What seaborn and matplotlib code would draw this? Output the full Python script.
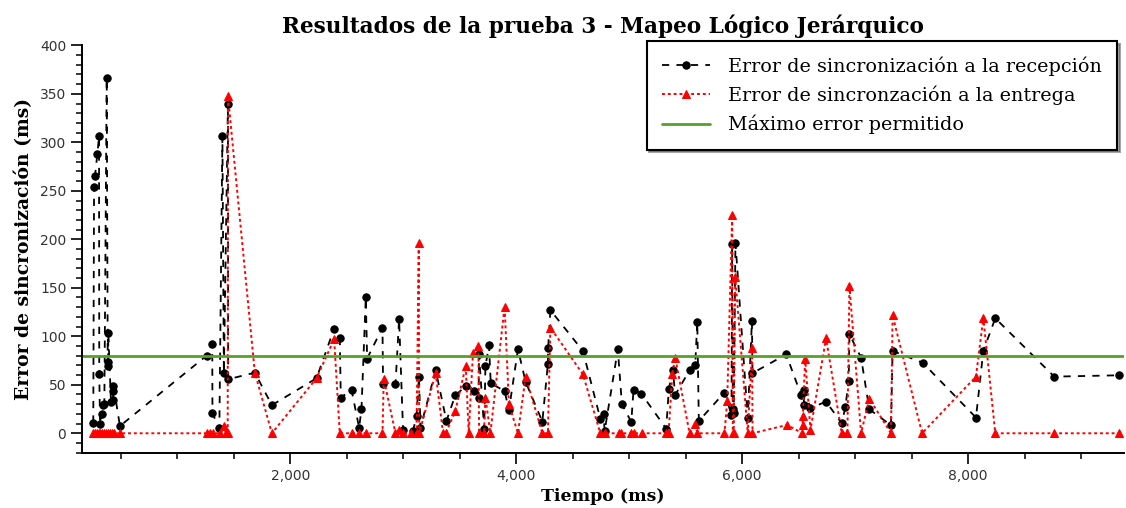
import matplotlib
matplotlib.use("Agg")
import matplotlib.pyplot as plt
import seaborn as sns
import pandas as pd
from matplotlib.ticker import MultipleLocator, FuncFormatter

# ---------------- data ----------------
t_recepcion = [257, 264, 272, 293, 308, 310, 317, 332, 346, 355, 376, 385, 388, 390, 414, 432, 434, 436, 493,
               1260, 1310, 1312, 1373, 1400, 1413, 1449, 1451, 1687, 1838, 2233, 2389, 2439, 2448, 2543, 2610,
               2631, 2669, 2681, 2817, 2822, 2932, 2964, 2999, 3087, 3118, 3140, 3153, 3288, 3383, 3462, 3560,
               3624, 3668, 3671, 3717, 3728, 3760, 3775, 3898, 3936, 4016, 4084, 4232, 4281, 4283, 4303, 4591,
               4745, 4774, 4783, 4900, 4936, 5019, 5039, 5107, 5328, 5352, 5387, 5408, 5535, 5585, 5603, 5617,
               5844, 5906, 5912, 5918, 5926, 5941, 6050, 6087, 6092, 6390, 6522, 6545, 6552, 6605, 6743, 6882,
               6914, 6943, 6950, 7053, 7126, 7318, 7332, 7598, 8070, 8135, 8241, 8763, 9337]
err_recepcion = [11, 254, 265, 288, 306, 61.5, 10, 19.6, 29, 30, 366, 74, 69, 103, 32, 34, 44, 49, 7.5,
                 80, 92, 20.6, 5, 306, 62.5, 340, 55.7, 62.5, 29, 56.7, 108, 98.6, 36.8, 44.7, 5.8,
                 24.7, 140, 77, 109, 50.5, 50.5, 117.5, 3.4, 2.4, 17.9, 58.4, 5.8, 65, 12.7, 39.5, 48.8,
                 43.6, 36.8, 81.4, 4.5, 69, 90.7, 51.5, 43.6, 23.7, 86.6, 53, 12, 71.8, 87.6, 127, 84.9,
                 15, 19.6, 2, 86.6, 30, 11.7, 44.7, 41, 4.8, 46, 65, 39.5, 65, 70, 115, 12.7,
                 42, 19, 195, 24.7, 21, 196.6, 15.5, 115.8, 62, 81.4, 39.5, 29, 44.7, 26, 32.6, 10.3,
                 27, 54, 102, 78, 24.7, 8.2, 84.9, 72.8, 16.2, 84.9, 118.6, 58.4, 59.8]

t_entrega = [255, 272, 290, 308, 317, 334, 352, 370, 387, 405, 423, 440, 493,
             1263, 1289, 1316, 1378, 1413, 1431, 1447, 1449, 1687, 1838, 2233, 2389, 2439, 2543, 2610, 2675,
             2817, 2828, 2932, 2964, 2999, 3073, 3118, 3138, 3142, 3288, 3353, 3377, 3462, 3554, 3580, 3618,
             3666, 3672, 3715, 3728, 3772, 3898, 3936, 4016, 4084, 4232, 4281, 4303, 4591, 4745, 4783, 4909,
             4930, 5019, 5039, 5113, 5322, 5349, 5382, 5408, 5535, 5585, 5605, 5844, 5868, 5912, 5918, 5926,
             5939, 6050, 6089, 6092, 6399, 6534, 6536, 6538, 6558, 6605, 6743, 6882, 6932, 6950, 7053, 7126,
             7318, 7332, 7593, 8070, 8135, 8241, 8763, 9337]
err_entrega = [0, 0, 0, 0, 0, 0, 0, 0, 0, 0, 0, 0, 0,
               0, 0, 0, 0, 8, 0, 0, 348, 62.5, 0, 56.7, 97, 0, 0, 0, 0,
               0, 56.4, 0, 3, 0, 0, 0, 196, 0, 62, 0, 0, 23, 69.4, 0, 83,
               90, 0, 0, 36.8, 0, 130.6, 30, 0, 58.4, 0, 0, 109, 60.8, 0, 0, 0,
               0, 0, 0, 0, 0, 0, 61, 78, 0, 10, 0, 0, 33, 225, 0, 0,
               161.5, 0, 87.6, 0, 8.6, 0, 9, 18, 77, 3.4, 98, 0, 0, 152, 0, 35.7,
               0, 121.6, 0, 58.4, 119, 0, 0, 0]

max_error = 80

labels = ["Error de sincronización a la recepción",
          "Error de sincronzación a la entrega",
          "Máximo error permitido"]
title = "Resultados de la prueba 3 - Mapeo Lógico Jerárquico"
xlabel = "Tiempo (ms)"
ylabel = "Error de sincronización (ms)"

# ---------------- plot ----------------
sns.set_style("ticks")
plt.rcParams["font.family"] = ["DejaVu Sans"]

fig = plt.figure(figsize=(11.26, 5.08), dpi=100)
ax = fig.add_axes([0.0731, 0.1089, 0.9251, 0.8019])

df_r = pd.DataFrame({"t": t_recepcion, "e": err_recepcion})
df_e = pd.DataFrame({"t": t_entrega, "e": err_entrega})

sns.lineplot(data=df_r, x="t", y="e", ax=ax, estimator=None, sort=False,
             color="black", linestyle=(0, (4, 4)), linewidth=1.3,
             marker="o", markersize=5.3, markeredgecolor="black", label=labels[0])
sns.lineplot(data=df_e, x="t", y="e", ax=ax, estimator=None, sort=False,
             color="red", linestyle=(0, (1.5, 1.5)), linewidth=1.4,
             marker="^", markersize=6.3, markeredgecolor="red", label=labels[1])
ax.axhline(max_error, color="#55a12a", linewidth=2, label=labels[2])

ax.set_xlim(160, 9380)
ax.set_ylim(-20, 400)
ax.xaxis.set_major_locator(MultipleLocator(2000))
ax.xaxis.set_minor_locator(MultipleLocator(500))
ax.xaxis.set_major_formatter(FuncFormatter(lambda v, p: f"{int(v):,}"))
ax.yaxis.set_major_locator(MultipleLocator(50))
ax.yaxis.set_minor_locator(MultipleLocator(10))

sns.despine(ax=ax)
for s in ["left", "bottom"]:
    ax.spines[s].set_linewidth(1.4)
    ax.spines[s].set_color("black")
ax.tick_params(axis="both", which="major", length=8, width=1.2, labelsize=10,
               labelcolor="#333333", color="black", direction="out")
ax.tick_params(axis="both", which="minor", length=4.5, width=1.1, color="black", direction="out")

serif = ["DejaVu Serif"]
ax.set_title(title, fontsize=15.6, fontweight="bold", family=serif, pad=9, color="black")
ax.set_xlabel(xlabel, fontsize=12.5, fontweight="bold", family=serif, labelpad=4, color="black")
ax.set_ylabel(ylabel, fontsize=13.5, fontweight="bold", family=serif, labelpad=5, color="black")

leg = ax.legend(loc="upper right", bbox_to_anchor=(0.9935, 1.01), borderaxespad=0,
                prop={"family": serif, "size": 13.8}, frameon=True, fancybox=False, shadow=True,
                handlelength=2.5, handletextpad=0.95, borderpad=0.8, labelspacing=0.5)
leg.get_frame().set_edgecolor("black")
leg.get_frame().set_linewidth(1.5)
leg.get_frame().set_alpha(1)
for txt in leg.get_texts():
    txt.set_color("black")

fig.savefig("out.png", dpi=100)
